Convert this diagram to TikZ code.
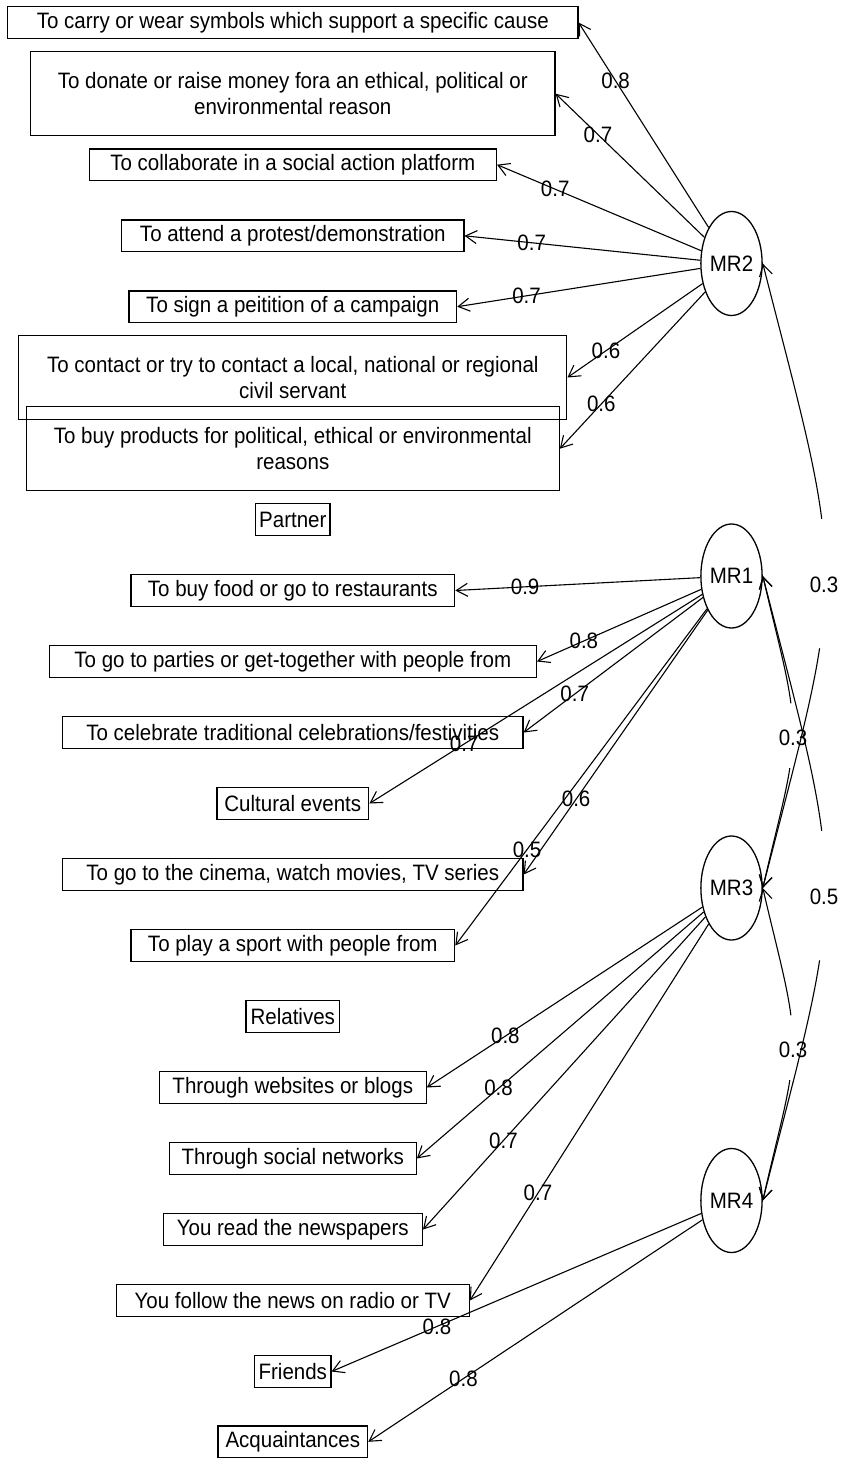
\documentclass[tikz,border=0pt]{standalone}
\usepackage{fontspec}
\setmainfont[FakeStretch=0.92]{Liberation Sans}
\usetikzlibrary{shapes.geometric,arrows.meta}
\begin{document}
\begin{tikzpicture}[x=1pt,y=-1pt,
  every node/.style={font=\fontsize{22.3}{26.6}\selectfont},
  var/.style={draw, line width=1.3pt, inner sep=0pt, align=center, minimum height=31.6pt},
  var2/.style={var, minimum height=84pt},
  fac/.style={draw, ellipse, line width=1.3pt, minimum width=57pt, minimum height=104pt, inner sep=0pt},
  tip/.style={-{Straight Barb[angle=60:13pt]}},
  load/.style={draw, line width=1.1pt, tip},
  lab/.style={inner sep=0pt},
  corr/.style={draw, line width=1.1pt, tip}
]
\useasboundingbox (0,0) rectangle (843,1458);

% variables
\node[var,  minimum width=570.2pt] (v1)  at (292.8,22.5)   {To carry or wear symbols which support a specific cause};
\node[var2, minimum width=524.3pt] (v2)  at (292.8,93.7)   {To donate or raise money fora an ethical, political or\\environmental reason};
\node[var,  minimum width=407.2pt] (v3)  at (292.8,164.7)  {To collaborate in a social action platform};
\node[var,  minimum width=342.1pt] (v4)  at (292.8,235.8)  {To attend a protest/demonstration};
\node[var,  minimum width=327.6pt] (v5)  at (292.8,306.7)  {To sign a peitition of a campaign};
\node[var2, minimum width=548.0pt] (v6)  at (292.8,377.5)  {To contact or try to contact a local, national or regional\\civil servant};
\node[var2, minimum width=532.8pt] (v7)  at (292.8,448.7)  {To buy products for political, ethical or environmental\\reasons};
\node[var,  minimum width=74.6pt]  (v8)  at (292.8,519.6)  {Partner};
\node[var,  minimum width=323.7pt] (v9)  at (292.8,590.5)  {To buy food or go to restaurants};
\node[var,  minimum width=487.2pt] (v10) at (292.8,661.5)  {To go to parties or get-together with people from};
\node[var,  minimum width=460.4pt] (v11) at (292.8,732.5)  {To celebrate traditional celebrations/festivities};
\node[var,  minimum width=151.9pt] (v12) at (292.8,803.5)  {Cultural events};
\node[var,  minimum width=460.4pt] (v13) at (292.8,874.5)  {To go to the cinema, watch movies, TV series};
\node[var,  minimum width=323.7pt] (v14) at (292.8,945.5)  {To play a sport with people from};
\node[var,  minimum width=93.8pt]  (v15) at (292.8,1016.5) {Relatives};
\node[var,  minimum width=266.8pt] (v16) at (292.8,1087.5) {Through websites or blogs};
\node[var,  minimum width=246.8pt] (v17) at (292.8,1158.5) {Through social networks};
\node[var,  minimum width=259.1pt] (v18) at (292.8,1229.5) {You read the newspapers};
\node[var,  minimum width=352.8pt] (v19) at (292.8,1300.5) {You follow the news on radio or TV};
\node[var,  minimum width=76.2pt]  (v20) at (292.8,1371.5) {Friends};
\node[var,  minimum width=149.6pt] (v21) at (292.8,1441.8) {Acquaintances};

% factors
\node[fac] (MR2) at (731.5,263.5) {MR2};
\node[fac] (MR1) at (731.5,576)   {MR1};
\node[fac] (MR3) at (731.5,888)   {MR3};
\node[fac] (MR4) at (731.5,1200.5){MR4};

% loadings
\draw[load] (MR2) -- node[lab,pos=0.715]{0.8} (v1.east);
\draw[load] (MR2) -- node[lab,pos=0.715]{0.7} (v2.east);
\draw[load] (MR2) -- node[lab,pos=0.715]{0.7} (v3.east);
\draw[load] (MR2) -- node[lab,pos=0.715]{0.7} (v4.east);
\draw[load] (MR2) -- node[lab,pos=0.715]{0.7} (v5.east);
\draw[load] (MR2) -- node[lab,pos=0.715]{0.6} (v6.east);
\draw[load] (MR2) -- node[lab,pos=0.715]{0.6} (v7.east);

\draw[load] (MR1) -- node[lab,pos=0.715]{0.9} (v9.east);
\draw[load] (MR1) -- node[lab,pos=0.715]{0.8} (v10.east);
\draw[load] (MR1) -- node[lab,pos=0.715]{0.7} (v11.east);
\draw[load] (MR1) -- node[lab,pos=0.715]{0.7} (v12.east);
\draw[load] (MR1) -- node[lab,pos=0.715]{0.6} (v13.east);
\draw[load] (MR1) -- node[lab,pos=0.715]{0.5} (v14.east);

\draw[load] (MR3) -- node[lab,pos=0.715]{0.8} (v16.east);
\draw[load] (MR3) -- node[lab,pos=0.715]{0.8} (v17.east);
\draw[load] (MR3) -- node[lab,pos=0.715]{0.7} (v18.east);
\draw[load] (MR3) -- node[lab,pos=0.715]{0.7} (v19.east);

\draw[load] (MR4) -- node[lab,pos=0.715]{0.8} (v20.east);
\draw[load] (MR4) -- node[lab,pos=0.715]{0.8} (v21.east);

% factor correlations
\coordinate (g23a) at (821.7,518.8);
\coordinate (g23b) at (819.6,648.3);
\draw[corr] (g23a) .. controls (813.8,456.1) and (793.2,382.6) .. (MR2.east);
\draw[corr] (g23b) .. controls (810.5,707.8) and (790.6,778.8) .. (MR3.east);
\node[lab] (c23) at (824,585) {0.3};

\coordinate (g13a) at (790.9,703.4);
\coordinate (g13b) at (789.8,768.2);
\draw[corr] (g13a) .. controls (786.9,672.0) and (776.6,635.3) .. (MR1.east);
\draw[corr] (g13b) .. controls (785.2,797.9) and (775.3,833.4) .. (MR3.east);
\node[lab] (c13) at (793,738) {0.3};

\coordinate (g14a) at (821.7,830.8);
\coordinate (g14b) at (819.6,960.3);
\draw[corr] (g14a) .. controls (813.8,768.1) and (793.2,694.6) .. (MR1.east);
\draw[corr] (g14b) .. controls (810.5,1019.8) and (790.6,1090.8) .. (MR4.east);
\node[lab] (c14) at (824,897) {0.5};

\coordinate (g34a) at (790.9,1015.4);
\coordinate (g34b) at (789.8,1080.2);
\draw[corr] (g34a) .. controls (786.9,984.0) and (776.6,947.3) .. (MR3.east);
\draw[corr] (g34b) .. controls (785.2,1109.9) and (775.3,1145.4) .. (MR4.east);
\node[lab] (c34) at (793,1050) {0.3};
\end{tikzpicture}
\end{document}
